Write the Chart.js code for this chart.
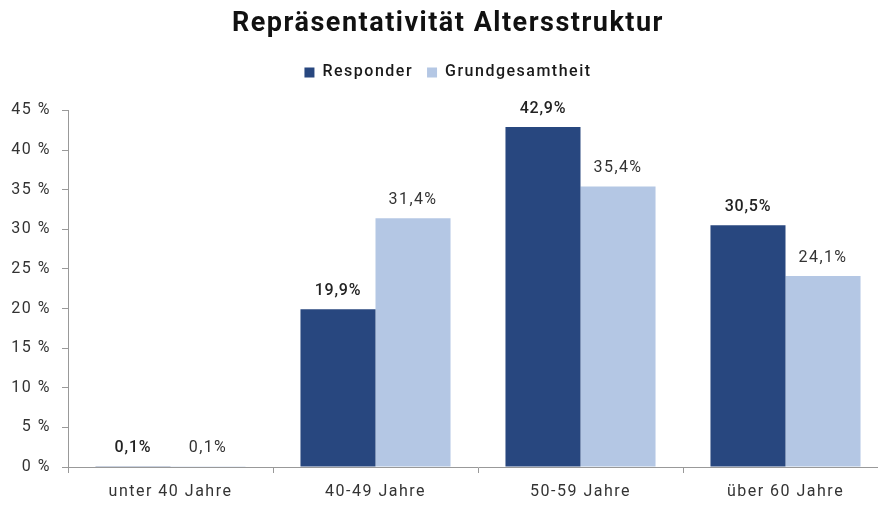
<!DOCTYPE html>
<html>
<head>
<meta charset="utf-8">
<script src="https://cdn.jsdelivr.net/npm/chart.js@4"></script>
<style>
html,body{margin:0;padding:0;background:#fff;overflow:hidden;}
#wrap{width:878px;height:506px;overflow:hidden;position:relative;}
canvas{display:block;}
</style>
</head>
<body>
<div id="wrap"><canvas id="c" width="912" height="506"></canvas></div>
<script>
const categories = ["unter 40 Jahre", "40-49 Jahre", "50-59 Jahre", "über 60 Jahre"];
const responder = [0.1, 19.9, 42.9, 30.5];
const grundgesamtheit = [0.1, 31.4, 35.4, 24.1];
const seriesNames = ["Responder", "Grundgesamtheit"];
const yTicks = [0, 5, 10, 15, 20, 25, 30, 35, 40, 45];
const chartTitle = "Repräsentativität Altersstruktur";

const FONT = "Roboto, 'DejaVu Sans', sans-serif";
const SPACING = '1.5px';

const spacingPlugin = {
  id: 'spacing',
  beforeInit(chart) {
    chart.ctx.letterSpacing = SPACING;
    const spacer = {
      position: 'top', weight: 1, fullSize: true, options: {},
      left: 0, top: 0, right: 0, bottom: 0, width: 0, height: 0,
      isHorizontal() { return true; },
      update(maxWidth) { this.width = maxWidth; this.height = 20; },
      draw() {}
    };
    Chart.layouts.addBox(chart, spacer);
  },
  beforeUpdate(chart) { chart.ctx.letterSpacing = SPACING; },
  beforeLayout(chart) { chart.ctx.letterSpacing = SPACING; },
  beforeDraw(chart) { chart.ctx.letterSpacing = SPACING; }
};

const labelPlugin = {
  id: 'barLabels',
  afterDatasetsDraw(chart) {
    const ctx = chart.ctx;
    ctx.save();
    ctx.textAlign = 'center';
    ctx.textBaseline = 'middle';
    chart.data.datasets.forEach((ds, i) => {
      const meta = chart.getDatasetMeta(i);
      meta.data.forEach((bar, j) => {
        const v = ds.data[j];
        const txt = v.toFixed(1).replace('.', ',') + '%';
        ctx.letterSpacing = i === 0 ? '0.8px' : '1.4px';
        ctx.font = (i === 0 ? '500 ' : '400 ') + '16px ' + FONT;
        ctx.fillStyle = i === 0 ? '#222' : '#333';
        ctx.fillText(txt, bar.x, bar.y - 18);
      });
    });
    ctx.restore();
  }
};

new Chart(document.getElementById('c'), {
  type: 'bar',
  data: {
    labels: categories,
    datasets: [
      { label: seriesNames[0], data: responder, backgroundColor: '#28477f' },
      { label: seriesNames[1], data: grundgesamtheit, backgroundColor: '#b4c7e4' }
    ]
  },
  options: {
    responsive: false,
    animation: false,
    layout: { padding: { left: 8, right: 24, top: 0, bottom: 0 } },
    datasets: { bar: { categoryPercentage: 0.732, barPercentage: 1.0 } },
    plugins: {
      title: {
        display: true,
        text: chartTitle,
        color: '#111',
        font: { family: FONT, size: 27, weight: 'bold', lineHeight: 1.2 },
        padding: { top: 8, bottom: 10 }
      },
      legend: {
        display: true,
        labels: {
          color: '#1a1a1a',
          boxWidth: 10, boxHeight: 10,
          font: { family: FONT, size: 16, weight: '500' },
          padding: 14
        }
      },
      tooltip: { enabled: false }
    },
    scales: {
      x: {
        afterFit(axis) { axis.height = 39; },
        grid: { display: true, drawOnChartArea: false, drawTicks: true, tickLength: 6, color: '#999', offset: true },
        border: { color: '#999' },
        ticks: { color: '#333', font: { family: FONT, size: 16 }, padding: 9 }
      },
      y: {
        min: 0, max: 45,
        afterBuildTicks(axis) { axis.ticks = yTicks.map(v => ({ value: v })); },
        afterFit(axis) { axis.width = 60; },
        grid: { display: true, drawOnChartArea: false, drawTicks: true, tickLength: 6, color: '#999' },
        border: { color: '#999' },
        ticks: {
          color: '#333', font: { family: FONT, size: 16 }, padding: 11,
          callback: v => v + ' %'
        }
      }
    }
  },
  plugins: [spacingPlugin, labelPlugin]
});
</script>
</body>
</html>
